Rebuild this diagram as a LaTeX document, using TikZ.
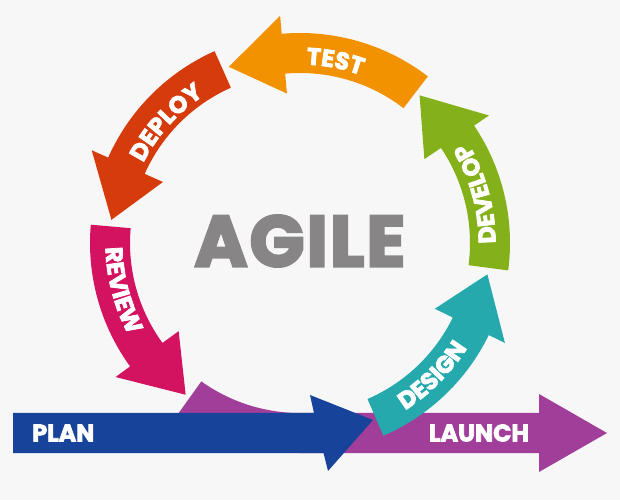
\documentclass[tikz,border=0pt]{standalone}
\usepackage{fontspec}
\setmainfont{Poppins}
\newfontfamily\agilefont{Poppins}[BoldFeatures={FakeBold=3.5},LetterSpace=3]
\newfontfamily\labelfont{Poppins}[BoldFeatures={FakeBold=3}]
\usetikzlibrary{calc,decorations.text}
\definecolor{bg}{HTML}{F7F7F7}
\definecolor{cOrange}{HTML}{F39200}
\definecolor{cRed}{HTML}{D63B0C}
\definecolor{cMagenta}{HTML}{D3135F}
\definecolor{cGreen}{HTML}{84B11A}
\definecolor{cTeal}{HTML}{26A9AC}
\definecolor{cPurple}{HTML}{A03E99}
\definecolor{cBlue}{HTML}{17449A}
\definecolor{cGray}{HTML}{878585}
\newcommand\arcarrow[4]{%
  \fill[#1,shift={(C)}] (#2:210) arc[start angle=#2,end angle=#3,radius=210]
    -- (#3:228) -- (#4:190) -- (#3:150) -- (#3:170)
    arc[start angle=#3,end angle=#2,radius=170] -- cycle;}
% curved label: #1 text, #2 start angle, #3 end angle, #4 baseline radius
\newcommand\arclabel[4]{%
  \path[shift={(C)},decorate,decoration={text along path,text align=center,
    text color=white,text={|\labelfont\bfseries\fontsize{24}{24}\selectfont|#1}}]
    (#2:#4) arc[start angle=#2,end angle=#3,radius=#4];}
\tikzset{
  lbl/.style={text=white,font=\labelfont\bfseries\fontsize{24}{24}\selectfont,inner sep=0pt},
  title/.style={text=cGray,font=\agilefont\bfseries\fontsize{72}{72}\selectfont,inner sep=0pt}
}
\begin{document}
\begin{tikzpicture}[x=1pt,y=1pt]
\fill[bg] (0,0) rectangle (620,500);
\useasboundingbox (0,0) rectangle (620,500);
\coordinate (C) at (300,257);
% launch (purple)
\fill[cPurple,shift={(C)}] (234.5:210) arc[start angle=234.5,end angle=270,radius=210]
  -- (239,-210) -- (239,-229) -- (307,-190) -- (239,-151) -- (239,-170) -- (0,-170)
  arc[start angle=270,end angle=234.5,radius=170] -- cycle;
% plan (blue)
\fill[cBlue] (13,87) -- (314,87) -- (310,105) -- (373,80) -- (328,29) -- (323.5,47) -- (13,47) -- cycle;
% circle arrows
\arcarrow{cGreen}{-7.5}{34}{51}
\arcarrow{cOrange}{52.5}{95}{112}
\arcarrow{cRed}{114}{156}{173}
\arcarrow{cMagenta}{175}{216}{233}
\arcarrow{cTeal}{-66.6}{-26}{-9.5}
% labels
\node[title] (agile) at (300,259) {AGILE};
\arclabel{TEST}{109}{49}{178.5}
\arclabel{DEPLOY}{170}{106}{176}
\arclabel{DEVELOP}{-16.5}{47.5}{195.5}
\arclabel{REVIEW}{162.8}{226.8}{194.5}
\arclabel{DESIGN}{-77}{-13}{197.5}
\node[lbl,anchor=west] (plan) at (32,67) {PLAN};
\node[lbl] (launch) at (479,67) {LAUNCH};
\end{tikzpicture}
\end{document}
